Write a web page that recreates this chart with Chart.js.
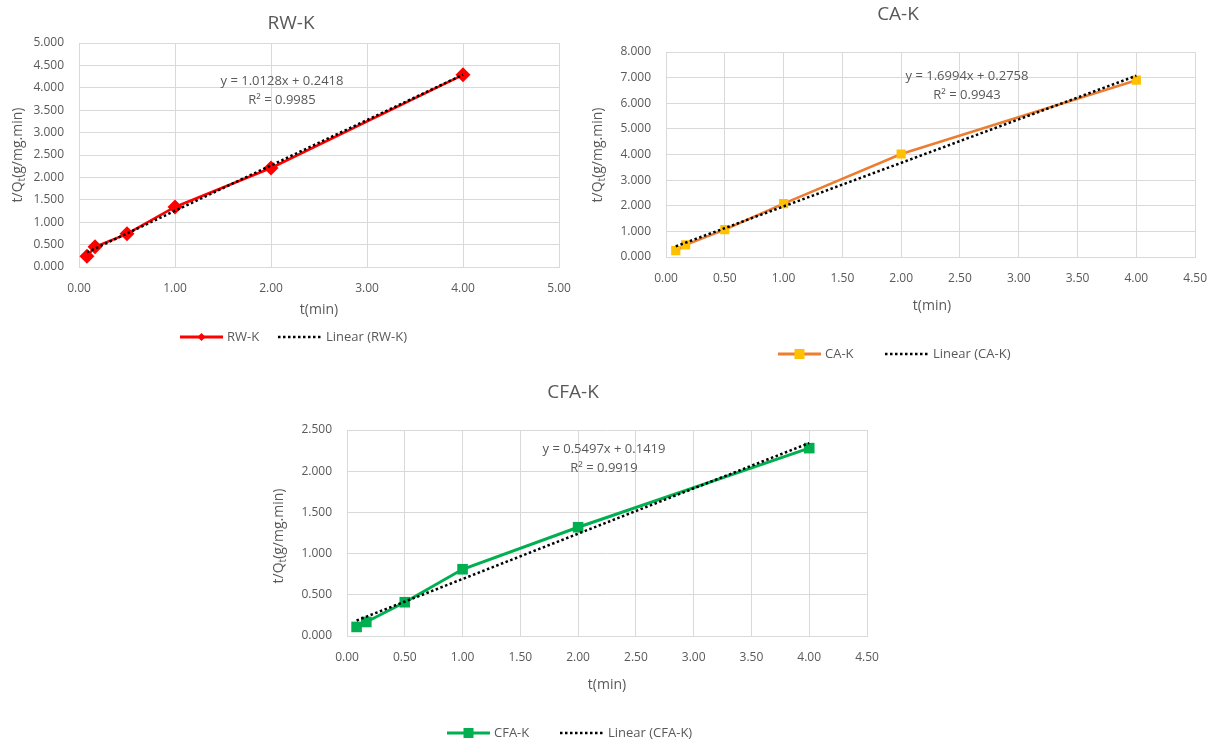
<!DOCTYPE html>
<html>
<head>
<meta charset="utf-8">
<title>Pseudo-second-order kinetics</title>
<script src="https://cdn.jsdelivr.net/npm/chart.js@4.4.1/dist/chart.umd.min.js"></script>
<style>
  body { margin: 0; background: #fff; }
  #wrap { position: relative; width: 1221px; height: 744px; overflow: hidden; }
  .box { position: absolute; }
</style>
</head>
<body>
<div id="wrap">
  <div class="box" style="left:0;top:0;width:585px;height:350px"><canvas id="rwChart"></canvas></div>
  <div class="box" style="left:585px;top:0;width:636px;height:372px"><canvas id="caChart"></canvas></div>
  <div class="box" style="left:250px;top:372px;width:671px;height:372px"><canvas id="cfaChart"></canvas></div>
</div>
<script>
// ====================
// Data
// ====================

const timeMin = [0.083, 0.167, 0.5, 1, 2, 4];

const rwValues = [0.24, 0.45, 0.74, 1.34, 2.21, 4.29];
const caValues = [0.25, 0.47, 1.07, 2.08, 4.02, 6.90];
const cfaValues = [0.11, 0.17, 0.41, 0.81, 1.32, 2.28];

// trendline end points (first and last t)
const trendX = [0.083, 4];
const rwTrend = [0.326, 4.293];
const caTrend = [0.417, 7.073];
const cfaTrend = [0.188, 2.341];

const rwFit = ["y = 1.0128x + 0.2418", "R\u00B2 = 0.9985"];
const caFit = ["y = 1.6994x + 0.2758", "R\u00B2 = 0.9943"];
const cfaFit = ["y = 0.5497x + 0.1419", "R\u00B2 = 0.9919"];

// axis ranges: [min, max, step]
const rwXAxis = [0, 5, 1];
const rwYAxis = [0, 5, 0.5];
const caXAxis = [0, 4.5, 0.5];
const caYAxis = [0, 8, 1];
const cfaXAxis = [0, 4.5, 0.5];
const cfaYAxis = [0, 2.5, 0.5];

// ====================
// Helpers
// ====================

const FONT = '"Open Sans", "Noto Sans", sans-serif';
const TEXT = "#595959";
const GRID = "#D9D9D9";

function pairs(xs, ys) {
  return xs.map((x, i) => ({ x: x, y: ys[i] }));
}

function drawMarker(ctx, style, x, y, size, color) {
  ctx.fillStyle = color;
  ctx.beginPath();
  if (style === "rectRot") {
    ctx.moveTo(x - size, y);
    ctx.lineTo(x, y - size);
    ctx.lineTo(x + size, y);
    ctx.lineTo(x, y + size);
  } else {
    ctx.rect(x - size, y - size, size * 2, size * 2);
  }
  ctx.closePath();
  ctx.fill();
}

const decorPlugin = {
  id: "decor",
  afterDraw(chart, args, o) {
    const ctx = chart.ctx;
    ctx.save();
    ctx.fillStyle = TEXT;
    ctx.textAlign = "center";
    ctx.textBaseline = "middle";

    // title
    ctx.font = "19px " + FONT;
    ctx.fillText(o.title, o.titlePos[0], o.titlePos[1]);

    // x axis title
    ctx.font = "14px " + FONT;
    ctx.fillText("t(min)", o.xTitlePos[0], o.xTitlePos[1]);

    // y axis title with subscript t
    ctx.save();
    ctx.translate(o.yTitlePos[0], o.yTitlePos[1]);
    ctx.rotate(-Math.PI / 2);
    ctx.textAlign = "left";
    ctx.font = "14px " + FONT;
    const a = "t/Q", c = "(g/mg.min)";
    const wa = ctx.measureText(a).width;
    const wc = ctx.measureText(c).width;
    ctx.font = "10px " + FONT;
    const wb = ctx.measureText("t").width;
    let x0 = -(wa + wb + wc) / 2;
    ctx.font = "14px " + FONT;
    ctx.fillText(a, x0, 0);
    ctx.font = "10px " + FONT;
    ctx.fillText("t", x0 + wa, 4);
    ctx.font = "14px " + FONT;
    ctx.fillText(c, x0 + wa + wb, 0);
    ctx.restore();

    // trendline equation
    ctx.font = "13px " + FONT;
    ctx.fillText(o.fit[0], o.fitPos[0], o.fitPos[1]);
    ctx.fillText(o.fit[1], o.fitPos[0], o.fitPos[1] + 19);

    // legend
    const ly = o.legendY;
    const s = chart.data.datasets[1];
    const t = chart.data.datasets[0];
    ctx.lineWidth = 3;
    ctx.strokeStyle = s.borderColor;
    ctx.beginPath();
    ctx.moveTo(o.legendX[0], ly);
    ctx.lineTo(o.legendX[0] + 43, ly);
    ctx.stroke();
    drawMarker(ctx, s.pointStyle, o.legendX[0] + 21.5, ly, o.legendMarker, s.pointBackgroundColor);
    ctx.fillStyle = TEXT;
    ctx.textAlign = "left";
    ctx.font = "13px " + FONT;
    ctx.fillText(s.label, o.legendX[0] + 47, ly);

    ctx.lineWidth = 2.5;
    ctx.strokeStyle = "#000";
    ctx.setLineDash([2.5, 2.5]);
    ctx.beginPath();
    ctx.moveTo(o.legendX[1], ly);
    ctx.lineTo(o.legendX[1] + 43, ly);
    ctx.stroke();
    ctx.setLineDash([]);
    ctx.fillText(t.label, o.legendX[1] + 48, ly);

    ctx.restore();
  },
};

function makeChart(id, opts) {
  return new Chart(document.getElementById(id), {
    type: "scatter",

    data: {
      datasets: [
        {
          label: "Linear (" + opts.name + ")",
          data: pairs(trendX, opts.trend),
          showLine: true,
          borderColor: "#000",
          borderWidth: 2.5,
          borderDash: [2.5, 2.5],
          pointRadius: 0,
          order: 0,
        },
        {
          label: opts.name,
          data: pairs(timeMin, opts.values),
          showLine: true,
          borderColor: opts.lineColor,
          borderWidth: opts.lineWidth,
          pointStyle: opts.pointStyle,
          pointRadius: opts.pointRadius,
          pointBackgroundColor: opts.pointColor,
          pointBorderColor: opts.pointColor,
          pointBorderWidth: 0,
          order: 1,
        },
      ],
    },

    options: {
      responsive: true,
      maintainAspectRatio: false,
      animation: false,
      events: [],

      layout: {
        padding: opts.padding,
      },

      plugins: {
        legend: { display: false },
        tooltip: { enabled: false },
        decor: opts.decor,
      },

      scales: {
        x: {
          type: "linear",
          min: opts.xAxis[0],
          max: opts.xAxis[1],
          grid: { color: GRID, drawTicks: false },
          border: { color: GRID },
          ticks: {
            stepSize: opts.xAxis[2],
            padding: 14,
            color: TEXT,
            font: { family: FONT, size: 12 },
            callback: (v) => v.toFixed(2),
          },
          afterFit: (scale) => { scale.height = 30; },
        },
        y: {
          min: opts.yAxis[0],
          max: opts.yAxis[1],
          grid: { color: GRID, drawTicks: false },
          border: { color: GRID },
          ticks: {
            stepSize: opts.yAxis[2],
            padding: 15,
            color: TEXT,
            font: { family: FONT, size: 12 },
            callback: (v) => v.toFixed(3),
          },
          afterFit: (scale) => { scale.width = 50; },
        },
      },
    },

    plugins: [decorPlugin],
  });
}

// ====================
// RW-K
// ====================

makeChart("rwChart", {
  name: "RW-K",
  values: rwValues,
  trend: rwTrend,
  xAxis: rwXAxis,
  yAxis: rwYAxis,
  lineColor: "#FF0000",
  lineWidth: 2.5,
  pointStyle: "rectRot",
  pointRadius: 7.5,
  pointColor: "#FF0000",
  padding: { left: 29, top: 43, right: 26, bottom: 53 },
  decor: {
    title: "RW-K",
    titlePos: [291, 24],
    xTitlePos: [319, 310],
    yTitlePos: [18, 155],
    fit: rwFit,
    fitPos: [282, 81],
    legendY: 337,
    legendX: [180, 278],
    legendMarker: 4,
  },
});

// ====================
// CA-K
// ====================

makeChart("caChart", {
  name: "CA-K",
  values: caValues,
  trend: caTrend,
  xAxis: caXAxis,
  yAxis: caYAxis,
  lineColor: "#ED7D31",
  lineWidth: 2.5,
  pointStyle: "rect",
  pointRadius: 6.5,
  pointColor: "#FFC000",
  padding: { left: 31, top: 52, right: 23, bottom: 85 },
  decor: {
    title: "CA-K",
    titlePos: [313, 15],
    xTitlePos: [347, 306],
    yTitlePos: [13, 155],
    fit: caFit,
    fitPos: [382, 76],
    legendY: 354,
    legendX: [193, 300],
    legendMarker: 5,
  },
});

// ====================
// CFA-K
// ====================

makeChart("cfaChart", {
  name: "CFA-K",
  values: cfaValues,
  trend: cfaTrend,
  xAxis: cfaXAxis,
  yAxis: cfaYAxis,
  lineColor: "#00B050",
  lineWidth: 3,
  pointStyle: "rect",
  pointRadius: 7.5,
  pointColor: "#00B050",
  padding: { left: 47, top: 58, right: 54, bottom: 78 },
  decor: {
    title: "CFA-K",
    titlePos: [323, 21],
    xTitlePos: [357, 313],
    yTitlePos: [29, 164],
    fit: cfaFit,
    fitPos: [354, 77],
    legendY: 361,
    legendX: [197, 310],
    legendMarker: 5,
  },
});
</script>
</body>
</html>
